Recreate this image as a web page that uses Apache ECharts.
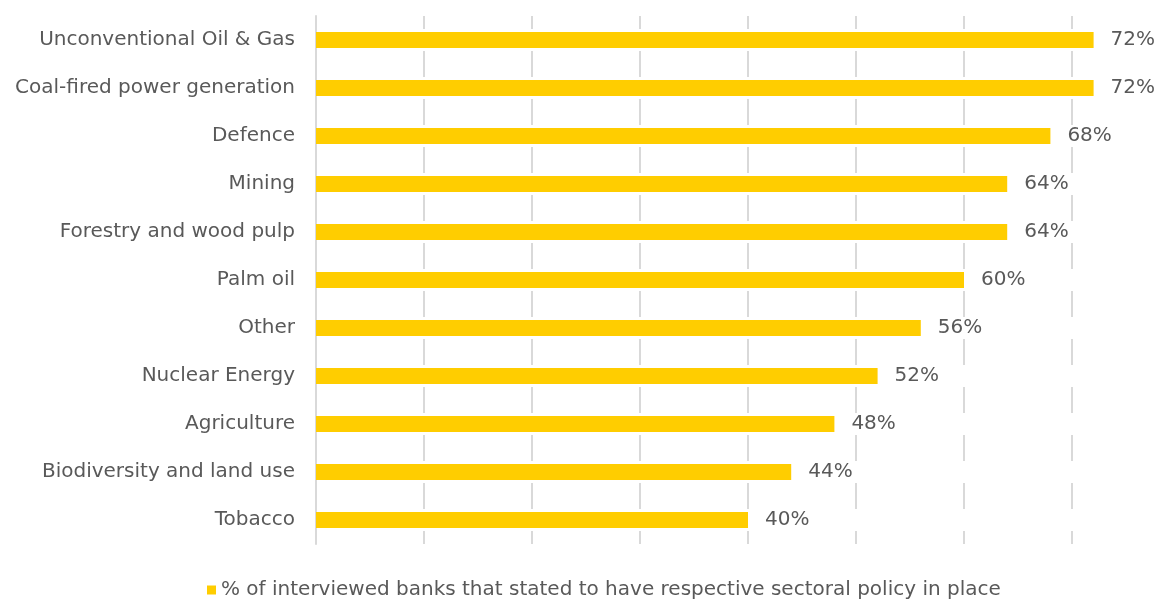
<!DOCTYPE html>
<html>
<head>
<meta charset="utf-8">
<script src="https://cdn.jsdelivr.net/npm/echarts@6/dist/echarts.min.js"></script>
<style>html,body{margin:0;padding:0;background:#fff;}#c{width:1169px;height:600px;}</style>
</head>
<body>
<div id="c"></div>
<script>
const categories = ["Unconventional Oil & Gas","Coal-fired power generation","Defence","Mining","Forestry and wood pulp","Palm oil","Other","Nuclear Energy","Agriculture","Biodiversity and land use","Tobacco"];
const values = [72,72,68,64,64,60,56,52,48,44,40];
const seriesName = "% of interviewed banks that stated to have respective sectoral policy in place";

const FONT = "DejaVu Sans";
const chart = echarts.init(document.getElementById('c'));
chart.setOption({
  animation: false,
  textStyle: {fontFamily: FONT},
  grid: {left: 316, top: 16, height: 528, right: 43, containLabel: false},
  legend: {
    top: 580, left: 207, itemWidth: 9, itemHeight: 9, icon: 'rect', itemGap: 6, padding: 0,
    textStyle: {color: '#595959', fontSize: 20, fontFamily: FONT}
  },
  xAxis: {
    type: 'value', min: 0, max: 75, interval: 10,
    axisLabel: {show: false}, axisTick: {show: false},
    axisLine: {show: false},
    splitLine: {show: true, showMaxLine: false, lineStyle: {color: '#d9d9d9', width: 2, type: [26, 22], dashOffset: 13}}
  },
  yAxis: {
    type: 'category', data: categories, inverse: true,
    axisLine: {show: true, lineStyle: {color: '#d9d9d9', width: 2}},
    axisTick: {show: false},
    axisLabel: {color: '#595959', fontSize: 20, margin: 21, fontFamily: FONT}
  },
  series: [{
    name: seriesName, type: 'bar', data: values, barWidth: 16,
    itemStyle: {color: '#FFCD00'},
    label: {show: true, position: 'right', distance: 17, color: '#595959', fontSize: 20, fontFamily: FONT, formatter: p => p.value + '%'}
  }]
});
</script>
</body>
</html>
